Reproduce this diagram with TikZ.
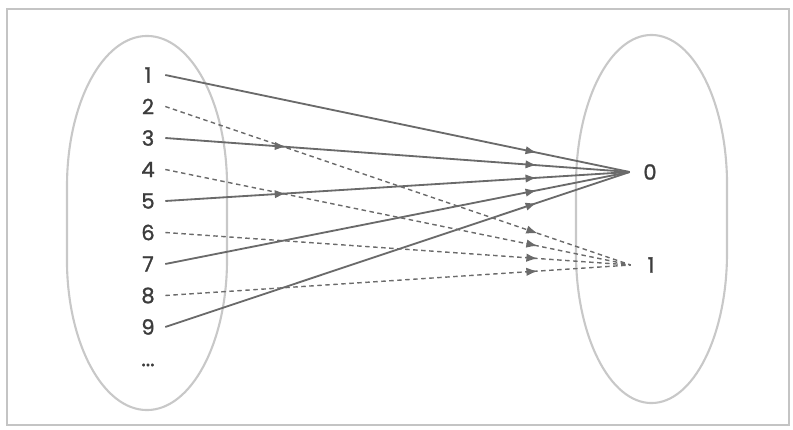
\documentclass[tikz,border=0pt]{standalone}
\usepackage{fontspec}
\setmainfont{Poppins}
\newfontfamily\numfont{Poppins}[FakeBold=1.2]
\usepackage{tikz}
\usetikzlibrary{arrows.meta, decorations.markings}

\definecolor{framegray}{HTML}{C4C4C4}
\definecolor{ovalgray}{HTML}{C8C8C8}
\definecolor{linkgray}{HTML}{6A6A6A}
\definecolor{textgray}{HTML}{3C3C3C}

\tikzset{
  tipat/.style={postaction={decorate, decoration={markings,
      mark=at position #1 with {\arrow{Latex[length=8pt, width=6pt]}}}}},
  solidlink/.style={draw=linkgray, line width=1.3pt, tipat=0.8},
  dashlink/.style={draw=linkgray, line width=1pt, dash pattern=on 3.2pt off 2.5pt, tipat=0.8},
}

\begin{document}
\begin{tikzpicture}[x=0.025cm, y=0.025cm,
    num/.style={text=textgray, font=\numfont\fontsize{15}{17}\selectfont, inner sep=0pt, minimum width=0.85cm},
    val/.style={text=textgray, font=\numfont\fontsize{15}{17}\selectfont, inner sep=0pt, minimum width=1cm},
    ovalline/.style={draw=ovalgray, line width=1.5pt}]
  \useasboundingbox (0,0) rectangle (793,429);
  \draw[framegray, line width=1pt] (7,4) rectangle (789,420);

  \draw[ovalline] (67,243) arc[start angle=180, end angle=0, x radius=2cm, y radius=3.75cm]
    -- (227,169) arc[start angle=0, end angle=-180, x radius=2cm, y radius=3.75cm] -- cycle;
  \draw[ovalline] (576,244) arc[start angle=180, end angle=0, x radius=1.8875cm, y radius=3.75cm]
    -- (727,176) arc[start angle=0, end angle=-180, x radius=1.8875cm, y radius=3.75cm] -- cycle;

  \foreach \i in {1,...,9}
    \node[num] (n\i) at (148, {354-31.5*(\i-1)}) {\i};
  \node[num] (more) at (148,64) {...};

  \node[val] (zero) at (650,257) {0};
  \node[val] (one) at (651,164) {1};

  \foreach \i in {1,7,9}
    \draw[solidlink] (n\i.east) -- (zero.west);
  \foreach \i in {3,5}
    \draw[solidlink, tipat=0.26] (n\i.east) -- (zero.west);
  \foreach \i in {2,4,6,8}
    \draw[dashlink] (n\i.east) -- (one.west);
\end{tikzpicture}
\end{document}
